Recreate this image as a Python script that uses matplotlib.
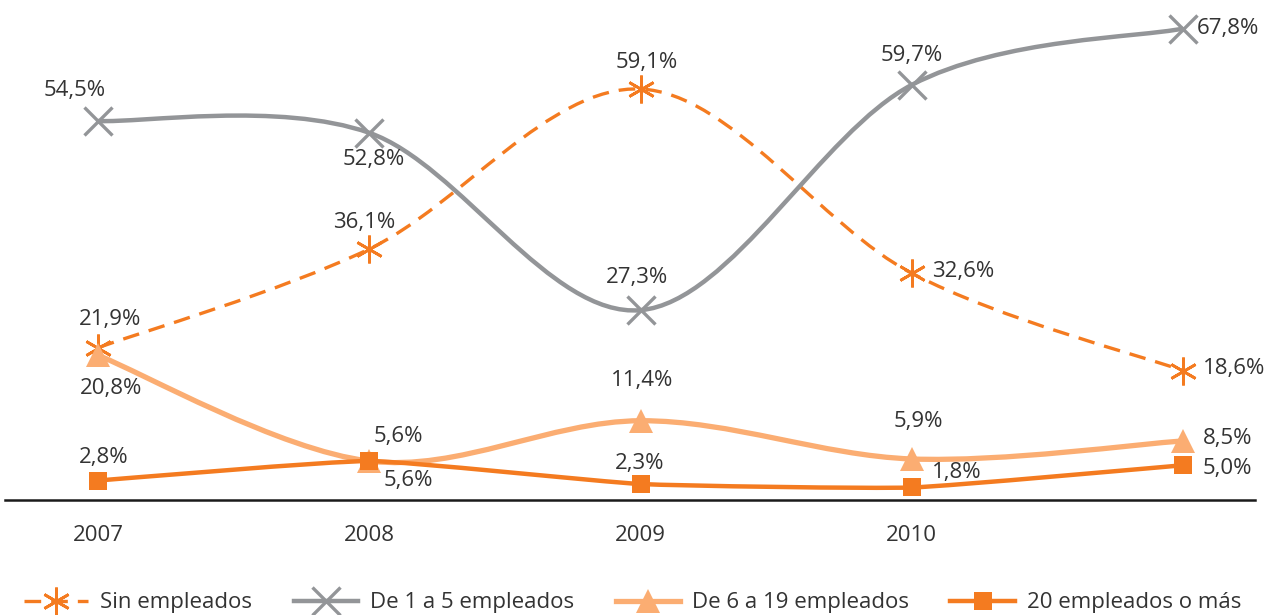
import numpy as np
import matplotlib.pyplot as plt
from matplotlib.path import Path
from matplotlib.patches import PathPatch
from matplotlib.lines import Line2D

plt.rcParams['font.family'] = ['Open Sans', 'DejaVu Sans']

# Datos: porcentaje de empresas según número de empleados
anios = ['2007', '2008', '2009', '2010', '']
sin_empleados = [21.9, 36.1, 59.1, 32.6, 18.6]
de_1_a_5 = [54.5, 52.8, 27.3, 59.7, 67.8]
de_6_a_19 = [20.8, 5.6, 11.4, 5.9, 8.5]
mas_de_20 = [2.8, 5.6, 2.3, 1.8, 5.0]

nombres = ['Sin empleados', 'De 1 a 5 empleados', 'De 6 a 19 empleados', '20 empleados o más']

naranja = '#F47B20'
naranja_claro = '#FBAD72'
gris = '#939598'
texto = '#333333'
fs = 16


def suave(xs, ys, k=1 / 6):
    # curva suavizada (Catmull-Rom convertida a Bezier cúbicas)
    p = np.column_stack([xs, ys]).astype(float)
    n = len(p)
    verts = [p[0]]
    codes = [Path.MOVETO]
    for i in range(n - 1):
        p0 = p[i - 1] if i > 0 else p[i]
        p1 = p[i]
        p2 = p[i + 1]
        p3 = p[i + 2] if i + 2 < n else p[i + 1]
        verts += [p1 + (p2 - p0) * k, p2 - (p3 - p1) * k, p2]
        codes += [Path.CURVE4] * 3
    return Path(verts, codes)


fig = plt.figure(figsize=(12.74, 6.15), dpi=100)
ax = fig.add_axes([5 / 1274, 115 / 615, 1250 / 1274, 500 / 615])
x = np.arange(len(anios))

# valores, color, estilo, grosor, marcador, tamaño, grosor marcador, suavizado
series = [
    (sin_empleados, naranja, (0, (5, 3)), 2.4, (6, 2, 0), 20, 2.0, 1 / 6),
    (de_1_a_5, gris, '-', 3.2, 'x', 20, 2.4, 1 / 6),
    (de_6_a_19, naranja_claro, '-', 3.8, '^', 17, 0, 1 / 6),
    (mas_de_20, naranja, '-', 3.2, 's', 13, 0, 1 / 14),
]

handles = []
for (vals, color, ls, lw, mk, ms, mew, k), nombre in zip(series, nombres):
    ax.add_patch(PathPatch(suave(x, vals, k), fill=False, edgecolor=color,
                           lw=lw, linestyle=ls, zorder=2))
    ax.plot(x, vals, linestyle='none', marker=mk, ms=ms, color=color,
            mec=color, mew=mew, zorder=3)
    handles.append(Line2D([], [], color=color, lw=lw, linestyle=ls, marker=mk,
                          ms=ms, mec=color, mew=mew, label=nombre))

# etiquetas de valor (desplazamientos en píxeles)
etiquetas = [
    (sin_empleados, [(12, 28, 'center'), (-5, 26, 'center'), (6, 27, 'center'),
                     (20, 2, 'left'), (20, 2, 'left')]),
    (de_1_a_5, [(-23, 31, 'center'), (4, -27, 'center'), (-4, 33, 'center'),
                (0, 29, 'center'), (14, 0, 'left')]),
    (de_6_a_19, [(13, -33, 'center'), (39, -19, 'center'), (2, 40, 'center'),
                 (7, 37, 'center'), (20, 2, 'left')]),
    (mas_de_20, [(6, 23, 'center'), (29, 25, 'center'), (-1, 21, 'center'),
                 (45, 15, 'center'), (20, -3, 'left')]),
]
for vals, offs in etiquetas:
    for i, (v, (dx, dy, ha)) in enumerate(zip(vals, offs)):
        ax.annotate(f'{v:.1f}%'.replace('.', ','), xy=(i, v), xytext=(dx, dy),
                    textcoords='offset pixels', ha=ha, va='center',
                    fontsize=fs, color=texto, zorder=4)

ax.set_xlim(-0.343, 4.265)
ax.set_ylim(0, 71.9)
ax.set_xticks(x)
ax.set_xticklabels(anios, fontsize=fs, color=texto)
ax.tick_params(axis='x', length=0, pad=18)
ax.set_yticks([])
for lado in ['top', 'right', 'left']:
    ax.spines[lado].set_visible(False)
ax.spines['bottom'].set_color('#1a1a1a')
ax.spines['bottom'].set_linewidth(1.8)

fig.legend(handles=handles, loc='lower left', bbox_to_anchor=(0.003, -0.03),
           ncol=4, frameon=False, fontsize=fs, handlelength=2.9,
           handletextpad=0.55, columnspacing=1.85, labelcolor=texto)

fig.savefig('out.png', dpi=100)
